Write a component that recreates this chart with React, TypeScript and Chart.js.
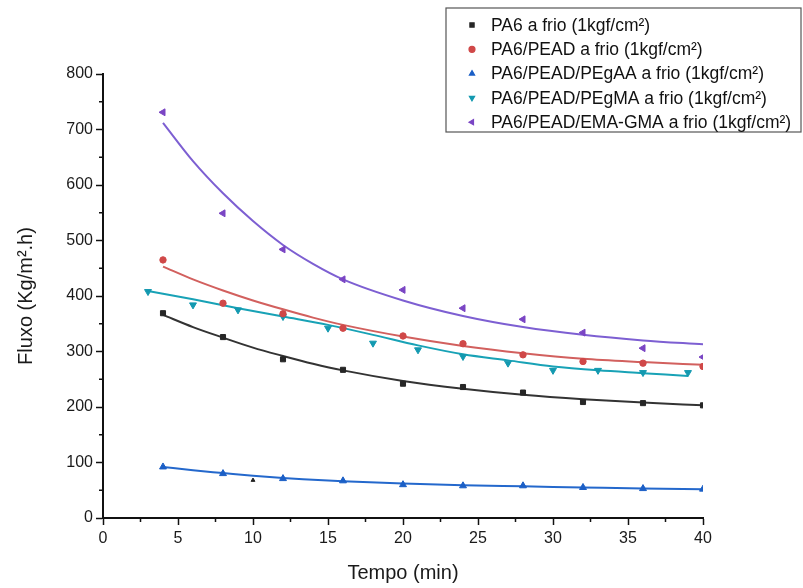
import React, { useEffect, useRef } from 'react';
import { Chart, registerables } from 'chart.js';
import { drawPoint } from 'chart.js/helpers';

Chart.register(...registerables);

const FONT = '"Liberation Sans", Arial, Helvetica, sans-serif';

// Measured permeate flux (Kg/m².h) against time (min)
const time = [4, 8, 12, 16, 20, 24, 28, 32, 36, 40];
const timePEgMA = [3, 6, 9, 12, 15, 18, 21, 24, 27, 30, 33, 36, 39];

const pa6 = [369, 326, 286, 267, 242, 236, 226, 209, 207, 203];
const pa6Pead = [465, 387, 368, 342, 328, 314, 294, 282, 279, 273];
const pa6PeadPEgAA = [92, 80, 71, 67, 60, 58, 58, 55, 53, 52];
const pa6PeadPEgMA = [408, 384, 375, 363, 342, 315, 303, 291, 279, 266, 266, 262, 262];
const pa6PeadEmaGma = [731, 549, 484, 430, 411, 378, 358, 334, 306, 290];

// lone extra reading near t = 10 min
const extraTime = [10];
const extraValue = [68];

// Decay curves fitted to each series
const fitTime = [4, 6, 8, 10, 12, 14, 16, 20, 24, 28, 32, 36, 40];
const pa6Fit = [366, 344, 325, 307, 292, 278, 266, 247, 233, 222, 214, 208, 203];
const pa6PeadFit = [453, 430, 410, 392, 376, 361, 348, 327, 310, 297, 287, 281, 276];
const pa6PeadPEgAAFit = [92, 86, 81, 76, 72, 69, 66, 62, 59, 57, 55, 53, 52];
const pa6PeadEmaGmaFit = [712, 643, 585, 535, 492, 458, 430, 392, 364, 344, 330, 320, 313];
const fitTimePEgMA = [3, 6, 9, 12, 15, 18, 21, 24, 27, 30, 33, 36, 39];
const pa6PeadPEgMAFit = [409, 394, 378, 363, 348, 330, 311, 295, 284, 273, 266, 261, 256];

const seriesLabels = [
  'PA6 a frio (1kgf/cm²)',
  'PA6/PEAD a frio (1kgf/cm²)',
  'PA6/PEAD/PEgAA a frio (1kgf/cm²)',
  'PA6/PEAD/PEgMA a frio (1kgf/cm²)',
  'PA6/PEAD/EMA-GMA a frio (1kgf/cm²)',
];

const markerColors = ['#262626', '#d04848', '#1b5fc6', '#1399b0', '#7a45c4'];
const lineColors = ['#333333', '#d2605e', '#2468cc', '#18a2b6', '#7d5fd2'];
const markerStyles = ['rect', 'circle', 'triangle', 'triangle', 'triangle'];
const markerRotations = [0, 0, 0, 180, -90];
const markerRadii = [3.6, 3.2, 4, 4, 4];

const pts = (xs: number[], ys: number[]) => xs.map((x, i) => ({ x, y: ys[i] }));

const measured = [
  pts(time, pa6),
  pts(time, pa6Pead),
  pts(time, pa6PeadPEgAA),
  pts(timePEgMA, pa6PeadPEgMA),
  pts(time, pa6PeadEmaGma),
];

const fitted = [
  pts(fitTime, pa6Fit),
  pts(fitTime, pa6PeadFit),
  pts(fitTime, pa6PeadPEgAAFit),
  pts(fitTimePEgMA, pa6PeadPEgMAFit),
  pts(fitTime, pa6PeadEmaGmaFit),
];

// Short outward minor ticks halfway between the labelled ones
const minorTicks = {
  id: 'minorTicks',
  afterDraw(chart: any) {
    const { ctx, scales } = chart;
    const xs = scales.x;
    const ys = scales.y;
    ctx.save();
    ctx.strokeStyle = '#111';
    ctx.lineWidth = 1.5;
    ctx.beginPath();
    for (let v = 2.5; v < 40; v += 5) {
      const px = xs.getPixelForValue(v);
      ctx.moveTo(px, ys.bottom);
      ctx.lineTo(px, ys.bottom + 4);
    }
    for (let v = 50; v < 800; v += 100) {
      const py = ys.getPixelForValue(v);
      ctx.moveTo(xs.left, py);
      ctx.lineTo(xs.left - 4, py);
    }
    ctx.stroke();
    ctx.restore();
  },
};

// Boxed legend in the upper right corner
const boxedLegend = {
  id: 'boxedLegend',
  afterDraw(chart: any) {
    const { ctx } = chart;
    const left = 446;
    const top = 8;
    const width = 355;
    const height = 124;
    ctx.save();
    ctx.fillStyle = '#ffffff';
    ctx.fillRect(left, top, width, height);
    ctx.strokeStyle = '#555';
    ctx.lineWidth = 1.2;
    ctx.strokeRect(left, top, width, height);
    ctx.font = `17.5px ${FONT}`;
    ctx.textBaseline = 'middle';
    ctx.textAlign = 'left';
    seriesLabels.forEach((label, i) => {
      const y = top + 17 + i * 24.3;
      ctx.fillStyle = markerColors[i];
      ctx.strokeStyle = markerColors[i];
      drawPoint(ctx, {
        pointStyle: markerStyles[i],
        rotation: markerRotations[i],
        radius: 3,
        borderWidth: 1,
      } as any, 472, y);
      ctx.fillStyle = '#111';
      ctx.fillText(label, 491, y + 1);
    });
    ctx.restore();
  },
};

export default function App() {
  const canvasRef = useRef<HTMLCanvasElement | null>(null);

  useEffect(() => {
    const canvas = canvasRef.current;
    if (!canvas) return;

    const markerSets = measured.map((data, i) => ({
      label: seriesLabels[i],
      data,
      showLine: false,
      pointStyle: markerStyles[i],
      rotation: markerRotations[i],
      pointRadius: markerRadii[i],
      pointBackgroundColor: markerColors[i],
      pointBorderColor: markerColors[i],
      pointBorderWidth: 1,
    }));

    const extraSet = {
      label: 'extra',
      data: pts(extraTime, extraValue),
      showLine: false,
      pointStyle: 'triangle',
      pointRadius: 2.2,
      pointBackgroundColor: '#222',
      pointBorderColor: '#222',
      pointBorderWidth: 1,
    };

    const fitSets = fitted.map((data, i) => ({
      label: seriesLabels[i] + ' fit',
      data,
      showLine: true,
      pointRadius: 0,
      borderColor: lineColors[i],
      borderWidth: 2,
      cubicInterpolationMode: 'monotone',
      fill: false,
    }));

    const chart = new Chart(canvas, {
      type: 'scatter',
      data: { datasets: [...markerSets, extraSet, ...fitSets] as any },
      options: {
        responsive: false,
        animation: false,
        devicePixelRatio: 1,
        layout: { padding: { left: 0, right: 100, top: 74, bottom: 0 } },
        plugins: {
          legend: { display: false },
          tooltip: { enabled: false },
        },
        scales: {
          x: {
            type: 'linear',
            min: 0,
            max: 40,
            afterFit(scale: any) {
              scale.height = 70;
            },
            ticks: {
              stepSize: 5,
              padding: 4,
              color: '#1a1a1a',
              font: { family: FONT, size: 16 },
            },
            grid: {
              drawOnChartArea: false,
              drawTicks: true,
              tickLength: 7,
              tickColor: '#111',
              tickWidth: 1.5,
            },
            border: { display: true, color: '#111', width: 2 },
            title: {
              display: true,
              text: 'Tempo (min)',
              color: '#1a1a1a',
              font: { family: FONT, size: 20 },
              padding: { top: 4, bottom: 3 },
            },
          },
          y: {
            type: 'linear',
            min: 0,
            max: 800,
            afterFit(scale: any) {
              scale.width = 103;
            },
            ticks: {
              stepSize: 100,
              padding: 3,
              color: '#1a1a1a',
              font: { family: FONT, size: 16 },
            },
            grid: {
              drawOnChartArea: false,
              drawTicks: true,
              tickLength: 7,
              tickColor: '#111',
              tickWidth: 1.5,
            },
            border: { display: true, color: '#111', width: 2 },
            title: {
              display: true,
              text: 'Fluxo (Kg/m².h)',
              color: '#1a1a1a',
              font: { family: FONT, size: 20 },
              padding: { top: 14, bottom: 0 },
            },
          },
        },
      },
      plugins: [minorTicks, boxedLegend],
    });

    return () => chart.destroy();
  }, []);

  return (
    <div style={{ position: 'absolute', left: 0, top: 0, width: 803, height: 588, background: '#fff' }}>
      <canvas ref={canvasRef} width={803} height={588} />
    </div>
  );
}
